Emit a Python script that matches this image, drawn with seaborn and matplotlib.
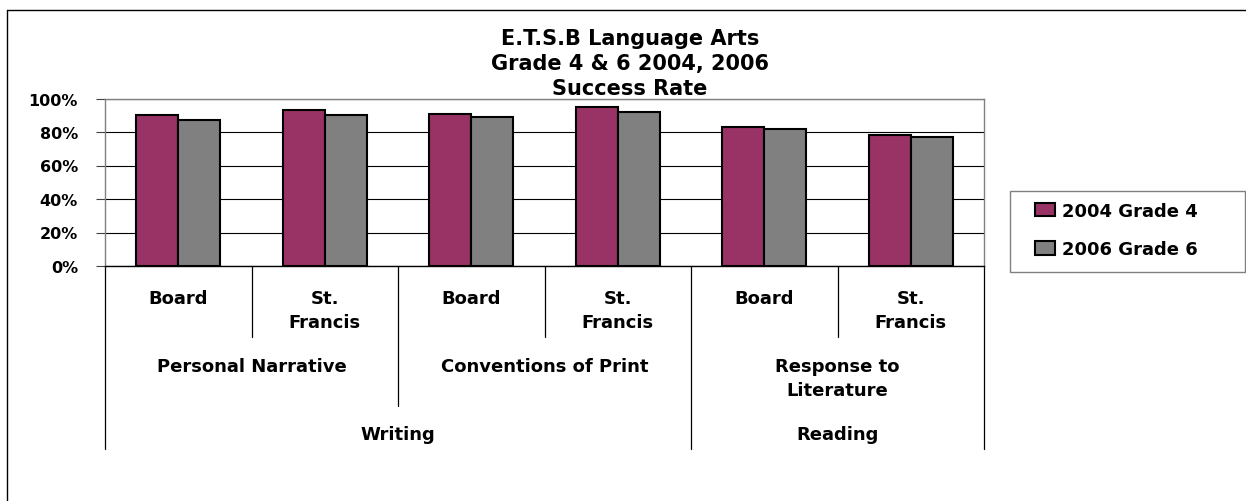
import matplotlib.pyplot as plt
import seaborn as sns
import pandas as pd
from matplotlib.lines import Line2D
from matplotlib.patches import Rectangle
from matplotlib.ticker import FuncFormatter
from matplotlib.transforms import blended_transform_factory


W, H = 1246, 502

TITLE = "E.T.S.B Language Arts\nGrade 4 & 6 2004, 2006\nSuccess Rate"
SITES = ["Board", "St.\nFrancis", "Board", "St.\nFrancis", "Board", "St.\nFrancis"]
SKILLS = ["Personal Narrative", "Conventions of Print", "Response to\nLiterature"]
SKILL_SIZE = [2, 2, 2]
STRANDS = ["Writing", "Reading"]
STRAND_SIZE = [4, 2]
SERIES = ["2004 Grade 4", "2006 Grade 6"]
GRADE4_2004 = [90, 93, 91, 95, 83, 78]
GRADE6_2006 = [87, 90, 89, 92, 82, 77]
COLORS = ["#993366", "#808080"]


def fy(y):
    # pixel row -> figure fraction
    return 1 - y / H


def build_frame():
    rows = []
    for name, values in zip(SERIES, [GRADE4_2004, GRADE6_2006]):
        for i, v in enumerate(values):
            rows.append({"cat": str(i), "series": name, "value": v})
    return pd.DataFrame(rows)


sns.set_style("white")
plt.rcParams["font.family"] = ["DejaVu Sans"]
plt.rcParams["font.weight"] = "bold"
plt.rcParams["text.color"] = "black"
plt.rcParams["ytick.color"] = "black"
plt.rcParams["ytick.labelcolor"] = "black"

fig = plt.figure(figsize=(W / 100, H / 100), dpi=100)
ax = fig.add_axes([105 / W, fy(267), (984 - 105) / W, (267 - 99.5) / H])

df = build_frame()
sns.barplot(
    df, x="cat", y="value", hue="series", hue_order=SERIES,
    order=[str(i) for i in range(len(SITES))], palette=COLORS,
    width=0.573, edgecolor="black", linewidth=1.5, saturation=1, ax=ax,
)

ax.set_ylim(0, 100)
ax.set_xlim(-0.5, len(SITES) - 0.5)
ax.set_yticks(range(0, 101, 20))
ax.yaxis.set_major_formatter(FuncFormatter(lambda v, p: f"{int(v)}%"))
ax.tick_params(axis="y", length=6.5, width=0.8, color="#404040", pad=13,
               labelsize=11.5, labelcolor="black", left=True)
ax.tick_params(axis="x", length=0, labelbottom=False)
ax.set_xlabel("")
ax.set_ylabel("")
ax.yaxis.grid(True, color="black", linewidth=0.8)
ax.set_axisbelow(True)
for side in ["top", "right", "left"]:
    ax.spines[side].set_color("#808080")
    ax.spines[side].set_linewidth(1)
ax.spines["bottom"].set_color("black")
ax.spines["bottom"].set_linewidth(1)

# legend: frame drawn separately so the box matches the original size
handles, labels = ax.get_legend_handles_labels()
ax.legend(
    handles, labels, bbox_to_anchor=(1035 / W, fy(231)),
    bbox_transform=fig.transFigure, loc="center left", frameon=False,
    prop={"size": 13, "weight": "bold"}, handlelength=1.1, handleheight=0.75,
    handletextpad=0.4, labelspacing=1.15, borderpad=0, borderaxespad=0,
)
fig.add_artist(Rectangle((1010 / W, fy(273)), 235 / W, 81 / H,
                         transform=fig.transFigure, fill=False,
                         edgecolor="#808080", linewidth=1))

# title
fig.text(630 / W, fy(64), TITLE, ha="center", va="center", fontsize=15,
         fontweight="bold", linespacing=1.33)

# multi-level category axis
trans = blended_transform_factory(ax.transData, fig.transFigure)
for i, site in enumerate(SITES):
    ax.text(i, fy(290), site, transform=trans, ha="center", va="top",
            fontsize=13, fontweight="bold", linespacing=1.45)

skill_edges = [-0.5]
start = -0.5
for name, n in zip(SKILLS, SKILL_SIZE):
    ax.text(start + n / 2, fy(358), name, transform=trans, ha="center",
            va="top", fontsize=13, fontweight="bold", linespacing=1.45)
    start += n
    skill_edges.append(start)

strand_edges = [-0.5]
start = -0.5
for name, n in zip(STRANDS, STRAND_SIZE):
    ax.text(start + n / 2, fy(426), name, transform=trans, ha="center",
            va="top", fontsize=13, fontweight="bold")
    start += n
    strand_edges.append(start)

for k in range(len(SITES) + 1):
    b = k - 0.5
    if b in strand_edges:
        bottom = 450
    elif b in skill_edges:
        bottom = 407
    else:
        bottom = 338
    ax.add_line(Line2D([b, b], [fy(267), fy(bottom)], transform=trans,
                       color="black", linewidth=0.9, clip_on=False))

# chart border
fig.add_artist(Line2D([7 / W, 1], [fy(11), fy(11)], color="black", linewidth=1))
fig.add_artist(Line2D([7 / W, 7 / W], [fy(11), 0], color="black", linewidth=1))

fig.savefig("out.png", dpi=100)
